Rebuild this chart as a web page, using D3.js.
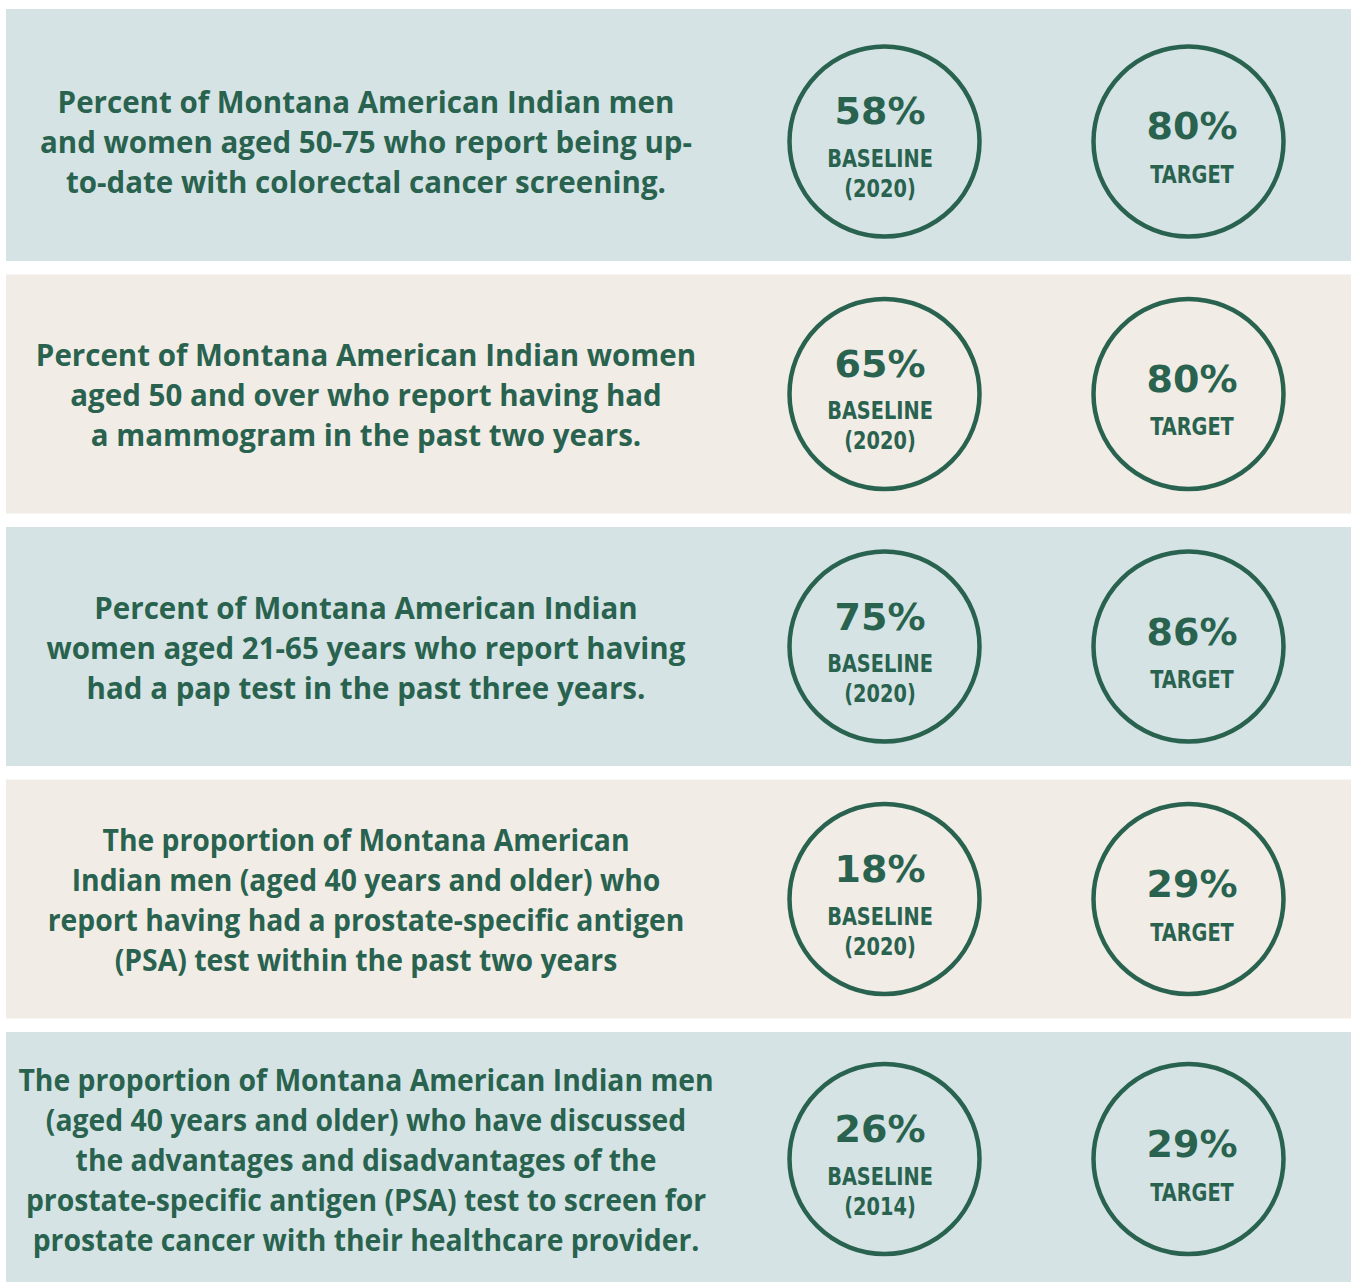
<!DOCTYPE html>
<html>
<head>
<meta charset="utf-8">
<script src="https://cdn.jsdelivr.net/npm/d3@7"></script>
<style>
body { margin: 0; background: #fff; }
svg { display: block; }
.row-label { font-family: 'Open Sans', sans-serif; font-weight: 700; font-size: 29.5px; fill: #29634f; }
.circle-value { font-family: 'DejaVu Sans', sans-serif; font-weight: 700; font-size: 38px; fill: #29634f; }
.circle-caption { font-family: 'Liberation Sans Narrow', 'DejaVu Sans Condensed', sans-serif; font-weight: 700; font-size: 25px; fill: #29634f; }
</style>
</head>
<body>
<div id="chart"></div>
<script>
// one entry per row, lines broken the way the source shows them
let labels = [
	['Percent of Montana American Indian men', 'and women aged 50-75 who report being up-', 'to-date with colorectal cancer screening.'],
	['Percent of Montana American Indian women', 'aged 50 and over who report having had', 'a mammogram in the past two years.'],
	['Percent of Montana American Indian', 'women aged 21-65 years who report having', 'had a pap test in the past three years.'],
	['The proportion of Montana American', 'Indian men (aged 40 years and older) who', 'report having had a prostate-specific antigen', '(PSA) test within the past two years'],
	['The proportion of Montana American Indian men', '(aged 40 years and older) who have discussed', 'the advantages and disadvantages of the', 'prostate-specific antigen (PSA) test to screen for', 'prostate cancer with their healthcare provider.']
]

let baselineValues = [58, 65, 75, 18, 26]
let baselineYears = ['2020', '2020', '2020', '2020', '2014']
let targetValues = [80, 80, 86, 29, 29]

let width = 1351
let height = 1282

let panelFill = ['#d6e3e4', '#f1ece6']
let condensed = [1, 1, 1, 0.96, 0.96]

let rows = d3.range(labels.length)

let y = d3.scaleBand()
	.domain(rows)
	.range([22, 1271])
	.paddingInner(0.0535)

let x = d3.scalePoint()
	.domain(['baseline', 'target'])
	.range([884.5, 1188.5])

// the type inside the circles sits a touch off centre in the source
let textShift = { baseline: -4.5, target: 3.5 }

let textX = 366
let lineHeight = 40
let r = 95
let last = rows.length - 1

let cy = i => i === last ? (y(i) + height) / 2 + 2 : y(i) + y.bandwidth() / 2

let svg = d3.select('#chart')
	.append('svg')
	.attr('width', width)
	.attr('height', height)

let row = svg.selectAll('.row')
	.data(rows)
	.enter()
	.append('g')
	.attr('class', 'row')

// first panel reaches up to the top margin, last one runs off the bottom
row.append('rect')
	.attr('x', 6)
	.attr('y', i => i === 0 ? 9 : y(i))
	.attr('width', width - 6)
	.attr('height', i => {
		let top = i === 0 ? 9 : y(i)
		let bottom = i === last ? height : y(i) + y.bandwidth()
		return bottom - top
	})
	.attr('fill', i => panelFill[i % 2])

row.append('text')
	.attr('class', 'row-label')
	.attr('text-anchor', 'middle')
	.attr('transform', i => `translate(${textX},${cy(i)}) scale(${condensed[i]},1)`)
	.selectAll('tspan')
	.data(i => labels[i].map((l, j) => ({ l, j, n: labels[i].length })))
	.enter()
	.append('tspan')
	.attr('x', 0)
	.attr('y', d => (d.j - (d.n - 1) / 2) * lineHeight + 12)
	.text(d => d.l)

;['baseline', 'target'].forEach(k => {
	row.append('circle')
		.attr('cx', x(k))
		.attr('cy', cy)
		.attr('r', r)
		.attr('fill', 'none')
		.attr('stroke', '#29634f')
		.attr('stroke-width', 4.5)
})

let caption = (sel, k, dy, txt) => {
	sel.append('text')
		.attr('class', 'circle-caption')
		.attr('text-anchor', 'middle')
		.attr('transform', i => `translate(${x(k) + textShift[k]},${cy(i) + dy}) scale(0.86,1)`)
		.text(txt)
}

row.append('text')
	.attr('class', 'circle-value')
	.attr('text-anchor', 'middle')
	.attr('x', x('baseline') + textShift.baseline)
	.attr('y', i => cy(i) - 17)
	.text(i => baselineValues[i] + '%')

caption(row, 'baseline', 25.5, 'BASELINE')
caption(row, 'baseline', 55.5, i => '(' + baselineYears[i] + ')')

row.append('text')
	.attr('class', 'circle-value')
	.attr('text-anchor', 'middle')
	.attr('x', x('target') + textShift.target)
	.attr('y', i => cy(i) - 2)
	.text(i => targetValues[i] + '%')

caption(row, 'target', 41.5, 'TARGET')
</script>
</body>
</html>
